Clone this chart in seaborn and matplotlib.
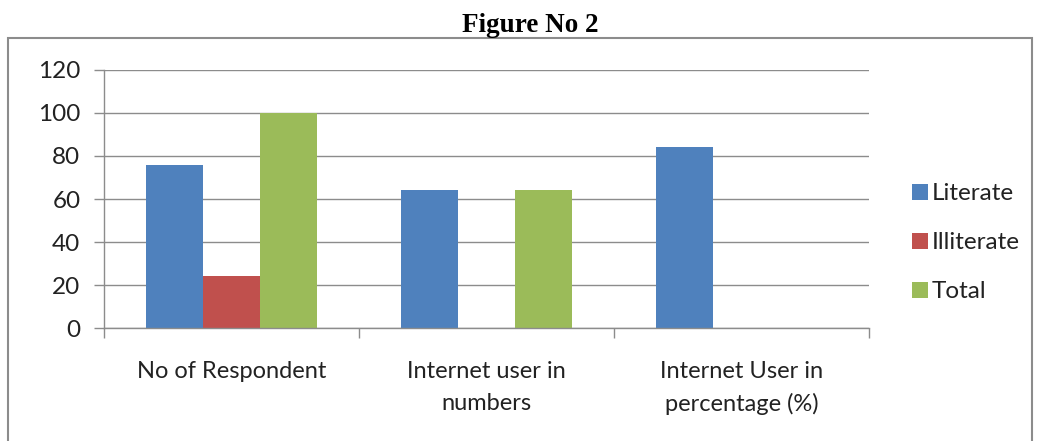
import matplotlib
matplotlib.use("Agg")
import matplotlib.pyplot as plt
import seaborn as sns
import pandas as pd
from matplotlib.patches import Rectangle

categories = ["No of Respondent", "Internet user in\nnumbers", "Internet User in\npercentage (%)"]
literate = [76, 64, 84]
illiterate = [24, 0, 0]
total = [100, 64, 0]
series_names = ["Literate", "Illiterate", "Total"]
colors = ["#4F81BD", "#C0504D", "#9BBB59"]
y_ticks = [0, 20, 40, 60, 80, 100, 120]

df = pd.DataFrame({
    "category": categories * 3,
    "group": [s for s in series_names for _ in categories],
    "value": literate + illiterate + total,
})

sns.set_theme(style="white")
plt.rcParams["font.family"] = ["Lato", "DejaVu Sans"]

fig = plt.figure(figsize=(10.38, 4.41), dpi=100)
ax = fig.add_axes([0.1002, 0.2562, 0.7370, 0.5851])

sns.barplot(data=df, x="category", y="value", hue="group", order=categories,
            hue_order=series_names, palette=colors, width=0.67, saturation=1,
            edgecolor="none", linewidth=0, ax=ax, legend=True)

ax.set_ylim(0, 120)
ax.set_xlim(-0.5, 2.5)
ax.set_yticks(y_ticks)
ax.set_yticklabels([str(v) for v in y_ticks], fontsize=17.5, color="#222222")
ax.yaxis.grid(True, color="#8c8c8c", linewidth=1.0)
ax.set_axisbelow(True)
ax.tick_params(axis="y", length=7, width=1, color="#8c8c8c", pad=10, left=True)

ax.set_xticks(range(3))
ax.set_xticklabels(categories, fontsize=17, color="#222222", linespacing=1.6)
ax.tick_params(axis="x", which="major", length=0, pad=24)
ax.set_xticks([-0.5, 0.5, 1.5, 2.5], minor=True)
ax.tick_params(axis="x", which="minor", length=7, width=1, color="#8c8c8c", bottom=True)
ax.set_xlabel("")
ax.set_ylabel("")

for side in ["top", "right"]:
    ax.spines[side].set_visible(False)
for side in ["left", "bottom"]:
    ax.spines[side].set_color("#8c8c8c")
    ax.spines[side].set_linewidth(1.0)

handles, labels = ax.get_legend_handles_labels()
ax.legend(handles, labels, loc="center left", bbox_to_anchor=(1.056, 0.33),
          frameon=False, fontsize=17.5, handlelength=0.65, handleheight=0.65,
          handletextpad=0.18, labelspacing=1.15, borderpad=0, borderaxespad=0,
          labelcolor="#222222")

# outer chart frame
fig.patches.append(Rectangle((8 / 1038, -0.05), 1024 / 1038, 1.05 - 38 / 441,
                             transform=fig.transFigure, fill=False,
                             edgecolor="#8c8c8c", linewidth=1.5))

fig.text(530 / 1038, 1 - 26 / 441, "Figure No 2", ha="center", va="center",
         fontsize=19.5, fontweight="bold", family="Liberation Serif", color="black")

fig.savefig("out.png", dpi=100, facecolor="white")
